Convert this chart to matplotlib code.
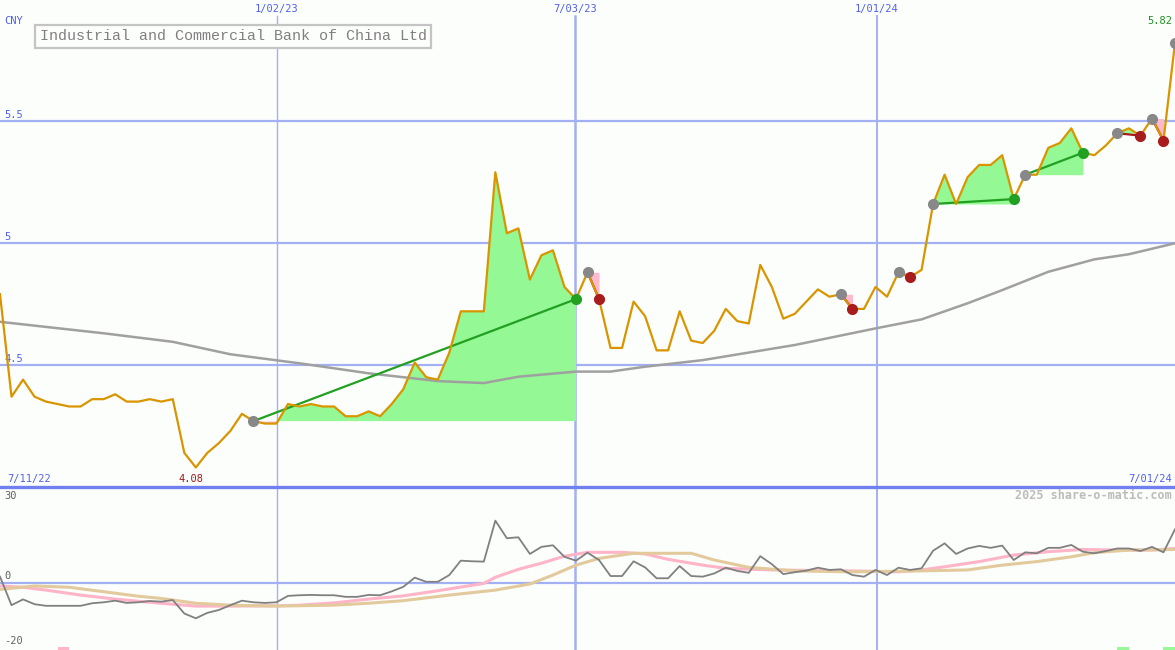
import matplotlib.pyplot as plt

# weekly closing prices (CNY), 7/11/22 .. 7/01/24
price = [4.79, 4.37, 4.44, 4.37, 4.35, 4.34, 4.33, 4.33, 4.36, 4.36,
         4.38, 4.35, 4.35, 4.36, 4.35, 4.36, 4.14, 4.08, 4.14, 4.18,
         4.23, 4.30, 4.27, 4.26, 4.26, 4.34, 4.33, 4.34, 4.33, 4.33,
         4.29, 4.29, 4.31, 4.29, 4.34, 4.40, 4.51, 4.45, 4.44, 4.55,
         4.72, 4.72, 4.72, 5.29, 5.04, 5.06, 4.85, 4.95, 4.97, 4.82,
         4.77, 4.88, 4.77, 4.57, 4.57, 4.76, 4.70, 4.56, 4.56, 4.72,
         4.60, 4.59, 4.64, 4.73, 4.68, 4.67, 4.91, 4.82, 4.69, 4.71,
         4.76, 4.81, 4.78, 4.79, 4.73, 4.73, 4.82, 4.78, 4.88, 4.86,
         4.89, 5.16, 5.28, 5.16, 5.27, 5.32, 5.32, 5.36, 5.18, 5.28,
         5.28, 5.39, 5.41, 5.47, 5.37, 5.36, 5.40, 5.45, 5.47, 5.44,
         5.51, 5.42, 5.82]

# long moving average (grey line, top panel)
ma_idx = [0, 9, 15, 20, 26, 32, 38, 42, 45, 50, 53, 56, 61, 69, 76, 80, 84, 87, 91, 95, 98, 102]
ma_vals = [4.677, 4.630, 4.595, 4.544, 4.507, 4.466, 4.434, 4.426, 4.452, 4.473, 4.473,
           4.493, 4.520, 4.582, 4.650, 4.687, 4.753, 4.807, 4.882, 4.933, 4.954, 4.999]

# trend segments: start (grey dot) -> end (green / red dot)
seg_start = [22, 51, 73, 78, 81, 89, 97, 100]
seg_end = [50, 52, 74, 79, 88, 94, 99, 101]
open_start = 102

# lower panel: % distance from MA and its two averages
osc = [2.0, -6.9, -5.1, -6.6, -7.1, -7.1, -7.1, -7.1, -6.3, -6.0,
       -5.5, -6.2, -6.0, -5.6, -5.8, -5.3, -9.5, -11.0, -9.3, -8.4,
       -6.9, -5.5, -6.0, -6.2, -6.0, -4.0, -3.8, -3.7, -3.8, -3.8,
       -4.3, -4.3, -3.7, -3.8, -2.6, -1.2, 1.7, 0.4, 0.4, 2.5,
       7.0, 6.8, 6.7, 19.5, 14.0, 14.3, 9.1, 11.3, 11.8, 8.2,
       7.0, 9.5, 7.2, 2.2, 2.2, 6.8, 4.9, 1.5, 1.5, 5.3,
       2.2, 2.0, 3.0, 4.8, 3.8, 3.2, 8.4, 5.9, 2.8, 3.4,
       3.9, 4.8, 4.1, 4.3, 2.5, 2.0, 4.1, 2.5, 4.8, 4.1,
       4.6, 10.1, 12.4, 9.1, 10.8, 11.6, 11.0, 11.7, 7.2, 9.6,
       9.3, 11.0, 11.0, 11.9, 9.8, 9.3, 10.0, 10.8, 10.8, 10.0,
       11.3, 9.6, 16.8]
pink_idx = [0, 2, 4, 7, 10, 13, 15, 17, 20, 24, 26, 29, 32, 35, 38, 42, 43, 45, 47, 49,
            51, 54, 56, 58, 61, 63, 67, 69, 74, 78, 80, 82, 85, 88, 91, 94, 97, 100, 102]
pink_vals = [-0.9, -1.3, -2.2, -3.75, -5.0, -6.0, -6.6, -7.2, -7.2, -7.1, -6.9, -6.2, -5.0,
             -4.0, -2.4, -0.1, 1.8, 4.3, 6.2, 8.4, 9.6, 9.6, 9.1, 7.4, 5.6, 4.6, 4.1, 4.0,
             3.8, 3.5, 4.1, 5.1, 6.7, 8.75, 9.8, 10.5, 10.3, 10.3, 10.8]
tan_idx = [0, 3, 6, 9, 12, 14, 17, 20, 24, 29, 32, 35, 39, 43, 46, 48, 50, 52, 55, 60,
           62, 65, 69, 74, 80, 84, 87, 90, 93, 95, 98, 102]
tan_vals = [-2.0, -0.9, -1.3, -2.7, -4.1, -4.8, -6.3, -6.9, -7.2, -6.9, -6.3, -5.5, -3.75,
            -2.2, -0.3, 2.5, 5.6, 7.7, 9.3, 9.3, 7.2, 4.9, 3.8, 3.5, 3.8, 4.1, 5.6, 6.7,
            8.2, 9.5, 10.3, 10.5]
sig_idx = [5, 97, 101]
sig_colors = ['#ffb4c8', '#98f898', '#98f898']

date_pos = [24.05, 49.9, 76.1]
date_labels = ['1/02/23', '7/03/23', '1/01/24']
date_widths = [1, 1.8, 1.4]
price_ticks = [4.5, 5, 5.5]
price_tick_labels = ['4.5', '5', '5.5']

bg = '#fcfefb'
grid = '#a4b0f4'
blue = '#5060f0'
mono = 'DejaVu Sans Mono'
title_font = 'Liberation Mono'

x = list(range(len(price)))
fig = plt.figure(figsize=(11.75, 6.5), dpi=100, facecolor=bg)
ax = fig.add_axes([0, 163 / 650, 1, 487 / 650])
ax2 = fig.add_axes([0, 0, 1, 163 / 650])
for a in (ax, ax2):
    a.set_axis_off()
    a.set_xlim(0, 102)
ax.set_ylim(4.0, 5.996)
ax2.set_ylim(-20.9, 30)

# grid
for v in price_ticks:
    ax.axhline(v, color=grid, lw=1.6, zorder=1)
for p, w in zip(date_pos, date_widths):
    ax.axvline(p, ymax=0.967, color=grid, lw=w, zorder=1)
    ax2.axvline(p, color=grid, lw=w, zorder=1)
ax2.axhline(0, color=grid, lw=1.6, zorder=1)
ax2.axhline(30, color='#7080f0', lw=2.4, zorder=6, clip_on=False)

# trend fills, lines and dots
for s, e in zip(seg_start, seg_end):
    xs = x[s:e + 1]
    ys = price[s:e + 1]
    base = price[s]
    ax.fill_between(xs, ys, base, where=[v >= base for v in ys], interpolate=True,
                    color='#94f894', lw=0, zorder=2)
    ax.fill_between(xs, ys, base, where=[v <= base for v in ys], interpolate=True,
                    color='#ffb8cc', lw=0, zorder=2)
    up = price[e] >= price[s]
    c = '#22a022' if up else '#a81c1c'
    ax.plot([s, e], [price[s], price[e]], color=c, lw=1.6, zorder=3.5)
    ax.plot(s, price[s], 'o', color='#888888', ms=7, zorder=5)
    ax.plot(e, price[e], 'o', color=c, ms=7, zorder=5)
ax.plot(open_start, price[open_start], 'o', color='#888888', ms=7, zorder=5)

# moving average (drawn over the fills)
ax.plot(ma_idx, ma_vals, color='#a0a0a0', lw=1.8, zorder=3)

ax.plot(x, price, color='#d99500', lw=1.6, zorder=4)

# lower panel
ax2.plot(pink_idx, pink_vals, color='#ffb4c8', lw=2.2, zorder=2)
ax2.plot(tan_idx, tan_vals, color='#e2ca9c', lw=2.2, zorder=2)
ax2.plot(x, osc, color='#808080', lw=1.3, zorder=3)
ax2.bar(sig_idx, 1.0, width=1, bottom=-20.9, align='edge', color=sig_colors, zorder=2)

# texts
tx = ax.get_xaxis_transform()
ty = ax.get_yaxis_transform()
for p, lab in zip(date_pos, date_labels):
    ax.text(p, 0.9815, lab, transform=tx, ha='center', va='center',
            fontsize=7.5, color=blue, family=mono)
for v, lab in zip(price_ticks, price_tick_labels):
    ax.text(0.004, v + 0.006, lab, transform=ty, ha='left', va='bottom',
            fontsize=7.5, color=blue, family=mono)
ax.text(0.004, 0.957, 'CNY', transform=ax.transAxes, ha='left', va='center',
        fontsize=7.5, color=blue, family=mono)
ax.text(0.9975, 0.957, '5.82', transform=ax.transAxes, ha='right', va='center',
        fontsize=7.5, color='#209020', family=mono)
ax.text(0.034, 0.926, 'Industrial and Commercial Bank of China Ltd', transform=ax.transAxes,
        ha='left', va='center', fontsize=10.8, color='#808080', family=title_font,
        bbox=dict(boxstyle='square,pad=0.3', fc=bg, ec='#c4c4c4', lw=1.6), zorder=7)
ax.text(0.006, 0.0164, '7/11/22', transform=ax.transAxes, ha='left', va='center',
        fontsize=7.5, color=blue, family=mono)
ax.text(0.9975, 0.0164, '7/01/24', transform=ax.transAxes, ha='right', va='center',
        fontsize=7.5, color=blue, family=mono)
ax.text(16.6, 0.0164, '4.08', transform=tx, ha='center', va='center',
        fontsize=7.5, color='#a01818', family=mono)

ty2 = ax2.get_yaxis_transform()
ax2.text(0.004, 0.945, '30', transform=ax2.transAxes, ha='left', va='center',
         fontsize=7.5, color='#606060', family=mono)
ax2.text(0.004, 0.6, '0', transform=ty2, ha='left', va='bottom',
         fontsize=7.5, color='#606060', family=mono)
ax2.text(0.004, -19.6, '-20', transform=ty2, ha='left', va='bottom',
         fontsize=7.5, color='#606060', family=mono)
ax2.text(0.9975, 0.945, '2025 share-o-matic.com', transform=ax2.transAxes, ha='right',
         va='center', fontsize=8.5, color='#bcbcbc', family=mono, weight='bold')

fig.savefig('out.png', dpi=100, facecolor=bg)
